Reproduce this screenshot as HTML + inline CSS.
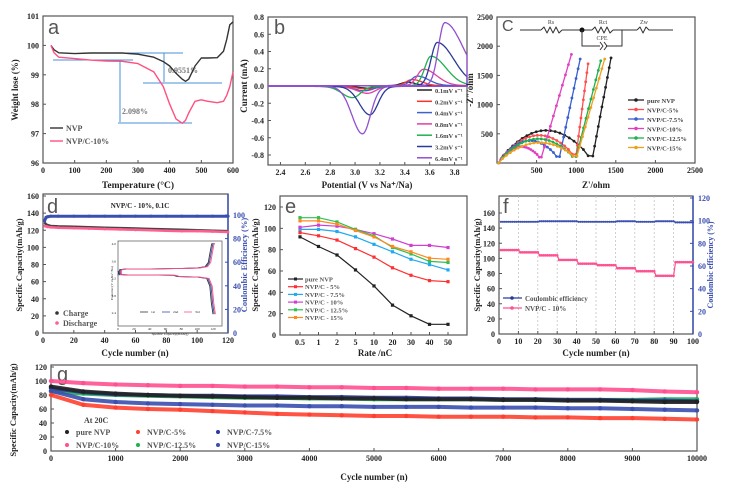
<!DOCTYPE html>
<html><head><meta charset="utf-8"><style>
body{margin:0;background:#fff}
svg{display:block;font-family:"Liberation Serif",serif;font-weight:bold}
</style></head><body>
<svg id="fig" width="735" height="490" viewBox="0 0 735 490" xmlns="http://www.w3.org/2000/svg"></svg>
<script>
// ---------- data ----------
const tgaT=[25,35,50,100,150,200,250,300,350,380,400,420,440,450,460,480,500,520,550,570,580,590,600];
const tgaNVP=[100,99.85,99.75,99.72,99.74,99.74,99.74,99.7,99.6,99.45,99.3,99.05,98.85,98.78,98.85,99.3,99.57,99.57,99.58,99.8,100.2,100.7,100.8];
const tgaNVPC=[100,99.75,99.6,99.55,99.5,99.47,99.46,99.38,99.1,98.6,98.0,97.5,97.35,97.45,97.7,98.1,98.15,98.1,98.05,98.1,98.3,98.6,99.1];
const cvRates=['0.1','0.2','0.4','0.8','1.6','3.2','6.4'];
const cvEa=[3.42,3.46,3.50,3.55,3.61,3.66,3.72];
const cvIa=[0.04,0.07,0.11,0.19,0.34,0.50,0.73];
const cvEc=[3.12,3.10,3.08,3.10,2.98,3.12,3.06];
const cvIc=[-0.02,-0.03,-0.05,-0.08,-0.13,-0.33,-0.55];
const eisNames=['pure NVP','NVP/C-5%','NVP/C-7.5%','NVP/C-10%','NVP/C-12.5%','NVP/C-15%'];
const eisH=[500,400,330,230,360,290];
const eisMinX=[1210,1000,790,560,1000,1010];
const eisMinY=[120,150,110,100,110,120];
const eisTopX=[1440,1150,1050,940,1310,1360];
const eisTopY=[1800,1700,1780,1860,1750,1780];
const dCycles=[1,2,3,5,10,20,30,40,50,60,70,80,90,100,110,120];
const dCharge=[129,127,126,125,124.5,124,123.5,123,122.5,122,121.5,121,120.5,120,119.5,119];
const dDischarge=[125,124.5,124,123.5,123,122.5,122,121.5,121,120.5,120,119.5,119,119,118.5,118];
const dCE=[95,98,98.5,99,99,99,99,99,99,99,99,99,99,99,99,99];
const inCapC=[0,2,10,40,80,100,110,114,116,118,119];
const inVC=[3.25,3.38,3.40,3.40,3.41,3.42,3.45,3.55,3.75,3.95,4.0];
const inCapD=[0,2,10,40,70,75,100,112,116,118,120];
const inVD=[3.35,3.27,3.26,3.26,3.25,3.22,3.21,3.18,3.0,2.6,2.35];
const eRates=['0.5','1','2','5','10','20','30','40','50'];
const eNames=['pure NVP','NVP/C - 5%','NVP/C - 7.5%','NVP/C - 10%','NVP/C - 12.5%','NVP/C - 15%'];
const eNVP=[92,83,75,61,46,28,18,10,10];
const e5=[96,93,89,81,73,63,56,51,50];
const e75=[99,99,97,92,85,78,71,66,61];
const e10=[101,103,102,99,95,90,84,84,82];
const e125=[110,110,106,99,93,82,76,69,68];
const e15=[107,107,104,98,92,83,78,72,71];
const fStep=[111,108,104,98,93,91,87,83,77,95];
const fCE=[99,99,99.5,99.5,99,99,99.5,99,99.5,98.5];
const gCycles=[0,500,1000,1500,2000,2500,3000,3500,4000,4500,5000,5500,6000,6500,7000,7500,8000,8500,9000,9500,10000];
const gNVP=[92,85,82,80,79,78,77,76,76,75,75,74,74,74,73,73,72,72,71,70,70];
const g5=[80,66,62,60,59,57,55,53,52,51,50,50,49,49,49,48,48,47,47,46,45];
const g75=[90,84,81,80,79,79,78,78,77,77,76,76,75,75,74,74,73,73,72,72,71];
const g10=[100,97,95,94,93,93,92,92,91,91,90,90,89,89,89,88,88,88,87,85,84];
const g125=[85,82,80,79,78,77,76,76,75,75,74,74,74,74,73,73,73,73,73,74,74];
const g15=[86,74,70,68,67,66,65,65,64,64,63,63,63,62,62,62,61,61,60,59,58];

// ---------- helpers ----------
const NS='http://www.w3.org/2000/svg';
const svg=document.getElementById('fig');
function mk(tag,attrs,name,parent){
  const el=document.createElementNS(NS,tag);
  for(const k in attrs) el.setAttribute(k,attrs[k]);
  
  
  (parent||svg).appendChild(el);return el;
}
function T(x,y,s,name,o){o=o||{};
  const el=mk('text',{x:x,y:y,'font-size':o.fs||8,'text-anchor':o.a||'middle',fill:o.c||'#222',transform:o.rot?`rotate(-90 ${x} ${y})`:'' ,'font-family':o.ff||'"Liberation Serif",serif','font-weight':o.fw||'bold'},name);
  el.textContent=s;return el;}
function lin(a,b,c,d){return v=>c+(v-a)*(d-c)/(b-a);}
function frame(x0,y0,x1,y1,name){mk('rect',{x:x0,y:y0,width:x1-x0,height:y1-y0,fill:'none',stroke:'#555','stroke-width':1.2},name);}
function L(x1,y1,x2,y2,c,w,name,dash){const a={x1:x1,y1:y1,x2:x2,y2:y2,stroke:c,'stroke-width':w||1};if(dash)a['stroke-dasharray']=dash;return mk('line',a,name);}
function yAx(sc,vals,x,name,side,col,fmt){vals.forEach(v=>{const y=sc(v);
  L(x,y,x+(side>0?-3:3),y,col||'#555',1,name+'-tick');
  T(x+(side>0?5:-4),y+3,fmt?fmt(v):String(v),name+'-label',{a:side>0?'start':'end',c:col||'#222',fs:8});});}
function xAx(sc,vals,y,name,labs){vals.forEach((v,i)=>{const x=sc(v);
  L(x,y,x,y-3,'#555',1,name+'-tick');
  T(x,y+10,labs?labs[i]:String(v),name+'-label',{fs:8});});}
function poly(pts,c,w,name,extra){const a={points:pts.map(p=>p[0].toFixed(1)+','+p[1].toFixed(1)).join(' '),fill:'none',stroke:c,'stroke-width':w||1,'stroke-linejoin':'round'};Object.assign(a,extra||{});return mk('polyline',a,name);}
function dots(pts,c,r,name){pts.forEach(p=>mk('circle',{cx:p[0],cy:p[1],r:r,fill:c},name));}
function letter(x,y,s,name,fs){T(x,y,s,name,{fs:fs||20,a:'start',c:'#555',ff:'"Liberation Sans",sans-serif',fw:'normal'});}

// ---------- panel a ----------
(function(){
const sx=lin(0,600,43,233), sy=lin(96,101,163,16);
frame(43,16,233,163,'panel-a-frame');
yAx(sy,[96,97,98,99,100,101],43,'a-y-axis',-1);
xAx(sx,[0,100,200,300,400,500,600],163,'a-x-axis');
letter(48,34,'a','panel-a-letter');
T(18,90,'Weight lose (%)','a-y-axis-title',{rot:1,fs:9});
T(138,188,'Temperature (°C)','a-x-axis-title',{fs:9.5});
const blue='#4a90d9';
L(83,53,183,53,blue,1,'annot-line-nvp-top');
L(143,83,222,83,blue,1,'annot-line-nvp-bottom');
L(53,60,133,60,blue,1,'annot-line-nvpc-top');
L(118,123,192,123,blue,1,'annot-line-nvpc-bottom');
L(164,53,164,82,blue,1,'annot-arrow-nvp');
L(120,60,120,122,blue,1,'annot-arrow-nvpc');
T(168,73,'0.9551%','annot-text-nvp',{a:'start',fs:8,c:'#777'});
T(122,114,'2.098%','annot-text-nvpc',{a:'start',fs:8,c:'#777'});
poly(tgaT.map((t,i)=>[sx(t),sy(tgaNVP[i])]),'#333',1.4,'tga-nvp-line');
poly(tgaT.map((t,i)=>[sx(t),sy(tgaNVPC[i])]),'#ff5080',1.4,'tga-nvpc-line');
L(50,128,63,128,'#333',1.4,'a-legend-nvp-line');T(66,131,'NVP','a-legend-nvp',{a:'start',fs:8,c:'#555'});
L(50,141,63,141,'#ff5080',1.4,'a-legend-nvpc-line');T(66,144,'NVP/C-10%','a-legend-nvpc',{a:'start',fs:8,c:'#555'});
})();

// ---------- panel b ----------
(function(){
const sx=lin(2.3,3.9,268,467), sy=lin(-0.8,0.8,155,17);
frame(268,17,467,165,'panel-b-frame');
yAx(sy,[-0.8,-0.6,-0.4,-0.2,0,0.2,0.4,0.6,0.8],268,'b-y-axis',-1,null,v=>v.toFixed(1));
xAx(sx,[2.4,2.6,2.8,3.0,3.2,3.4,3.6,3.8],165,'b-x-axis',['2.4','2.6','2.8','3.0','3.2','3.4','3.6','3.8']);
letter(274,34,'b','panel-b-letter');
T(247,86,'Current  (mA)','b-y-axis-title',{rot:1,fs:9});
T(367,188,'Potential (V vs Na⁺/Na)','b-x-axis-title',{fs:9});
const cols=['#222','#ff3030','#4060d0','#e040a0','#20b050','#2a3a9a','#9050d0'];
function pk(V,E,I,wl,wr){const d=V-E,w=d<0?wl:wr;return I*Math.exp(-(d/w)*(d/w));}
cvRates.forEach((r,i)=>{const pts=[];
  for(let V=2.3;V<=3.9;V+=0.01)pts.push([sx(V),sy(0.005+pk(V,cvEa[i],cvIa[i],0.07,0.09+0.02*i))]);
  for(let V=3.9;V>=2.3;V-=0.01)pts.push([sx(V),sy(-0.005+pk(V,cvEc[i],cvIc[i],0.12,0.09))]);
  poly(pts,cols[i],1.3,'cv-curve-'+r);
  const y=90+i*11.3;L(417,y,432,y,cols[i],1.5,'b-legend-line-'+r);
  T(435,y+3,r+'mV s⁻¹','b-legend-'+r,{a:'start',fs:6.5,c:'#444'});
});
})();

// ---------- panel c ----------
(function(){
const sx=lin(0,2500,497,695), sy=lin(0,2500,163,17);
frame(497,17,695,163,'panel-c-frame');
yAx(sy,[500,1000,1500,2000,2500],497,'c-y-axis',-1);
xAx(sx,[500,1000,1500,2000,2500],163,'c-x-axis');
letter(502,31,'C','panel-c-letter',16);
T(473,90,'-Z"/ohm','c-y-axis-title',{rot:1,fs:9});
T(596,188,"Z'/ohm",'c-x-axis-title',{fs:9});
L(520,30,541,30,'#333',1,'circuit-wire');
poly([[541,30],[544,27],[547,33],[550,27],[553,33],[556,27],[559,33],[562,30]],'#333',1,'circuit-rs');
L(562,30,592,30,'#333',1,'circuit-wire');mk('circle',{cx:582,cy:30,r:2.5,fill:'#111'},'circuit-node');
poly([[592,30],[595,27],[598,33],[601,27],[604,33],[607,27],[610,33],[613,30]],'#333',1,'circuit-rct');
L(613,30,637,30,'#333',1,'circuit-wire');
poly([[582,30],[582,46],[600,46]],'#333',1,'circuit-cpe-wire');poly([[622,30],[622,46],[606,46]],'#333',1,'circuit-cpe-wire');
poly([[600,42],[603,46],[600,50]],'#333',1,'circuit-cpe');poly([[604,42],[607,46],[604,50]],'#333',1,'circuit-cpe');
poly([[637,30],[640,27],[643,33],[646,27],[649,30],[673,30]],'#333',1,'circuit-zw');
T(551,24,'Rs','circuit-rs-label',{fs:6,fw:'normal',c:'#444'});T(603,24,'Rct','circuit-rct-label',{fs:6,fw:'normal',c:'#444'});
T(644,24,'Zw','circuit-zw-label',{fs:6,fw:'normal',c:'#444'});T(602,40,'CPE','circuit-cpe-label',{fs:6,fw:'normal',c:'#444'});
const cols=['#222','#ff5050','#3a5fd0','#e040c0','#20b050','#f0a020'];
eisNames.forEach((n,i)=>{const pts=[];
  for(let t=0;t<=1.0001;t+=0.05){pts.push([sx(20+t*(eisMinX[i]-20)),sy(eisH[i]*Math.pow(Math.sin(Math.PI*Math.min(t*1.05,1)),0.8)+eisMinY[i]*t)]);}
  for(let t=0.1;t<=1.0001;t+=0.1){pts.push([sx(eisMinX[i]+t*(eisTopX[i]-eisMinX[i])),sy(eisMinY[i]+t*(eisTopY[i]-eisMinY[i]))]);}
  poly(pts,cols[i],1.3,'eis-curve-'+i);dots(pts,cols[i],1.4,'eis-marker-'+i);
  const y=100+i*9.5;L(628,y,644,y,cols[i],1.3,'c-legend-line');mk('circle',{cx:636,cy:y,r:1.8,fill:cols[i]},'c-legend-marker');
  T(647,y+3,n,'c-legend-'+i,{a:'start',fs:6.5,c:'#444'});
});
})();

// ---------- panel d ----------
(function(){
const sx=lin(0,120,43,228), sy=lin(0,160,333,196), syR=lin(0,100,333,215);
frame(43,194,228,333,'panel-d-frame');
L(228,194,228,333,'#3a4fb0',1.5,'d-right-axis');
yAx(sy,[0,20,40,60,80,100,120,140,160],43,'d-y-axis',-1);
yAx(syR,[0,20,40,60,80,100],228,'d-y2-axis',1,'#3a4fb0');
xAx(sx,[0,20,40,60,80,100,120],333,'d-x-axis');
letter(47,213,'d','panel-d-letter');
T(140,208,'NVP/C - 10%,  0.1C','d-title',{fs:7});
T(22,265,'Specific Capacity(mAh/g)','d-y-axis-title',{rot:1,fs:8.5});
T(247,265,'Coulombic Efficiency (%)','d-y2-axis-title',{rot:1,fs:8.5,c:'#3a4fb0'});
T(135,356,'Cycle number (n)','d-x-axis-title',{fs:9});
const ce=dCycles.map((c,i)=>[sx(c),syR(dCE[i])]);poly(ce,'#3a4fb0',3,'d-ce-line');dots(ce,'#3a4fb0',1.6,'d-ce-marker');
const ch=dCycles.map((c,i)=>[sx(c),sy(dCharge[i])]);poly(ch,'#444',2.5,'d-charge-line');
const dc=dCycles.map((c,i)=>[sx(c),sy(dDischarge[i])]);poly(dc,'#ff6090',2.5,'d-discharge-line');dots(dc,'#ff6090',1.4,'d-discharge-marker');
mk('circle',{cx:57,cy:313,r:1.8,fill:'#333'},'d-legend-charge-marker');T(63,316,'Charge','d-legend-charge',{a:'start',fs:8,c:'#555'});
mk('circle',{cx:57,cy:323,r:1.8,fill:'#ff6090'},'d-legend-discharge-marker');T(63,326,'Discharge','d-legend-discharge',{a:'start',fs:8,c:'#555'});
const ix=lin(0,120,118,213), iy=lin(2.4,4.0,312,243);
mk('rect',{x:118,y:241,width:104,height:85,fill:'#fff',stroke:'#666','stroke-width':0.8},'inset-frame');
[2.4,2.8,3.2,3.6,4.0].forEach(v=>T(116,iy(v)+2,v.toFixed(1),'inset-y-label',{a:'end',fs:3.5,fw:'normal'}));
[0,20,40,60,80,100,120].forEach(v=>T(ix(v),330,String(v),'inset-x-label',{fs:3.5,fw:'normal'}));
T(113,283,'Potential (V vs Na⁺/Na)','inset-y-title',{rot:1,fs:3.5,fw:'normal'});
T(170,335,'Specific Capacity(mAh/g)','inset-x-title',{fs:3.5,fw:'normal'});
const ic=['#333','#3a4fb0','#ff5080'];
ic.forEach((c,k)=>{poly(inCapC.map((q,i)=>[ix(q)+k*1.2,iy(inVC[i])]),c,0.9,'inset-charge-'+k);
  poly(inCapD.map((q,i)=>[ix(q)+k*1.2,iy(inVD[i])]),c,0.9,'inset-discharge-'+k);
  L(140+k*22,312,148+k*22,312,c,0.8,'inset-legend-line');T(151+k*22,313,['1st','2nd','3rd'][k],'inset-legend',{a:'start',fs:3.5,fw:'normal'});});
})();

// ---------- panel e ----------
(function(){
const sx=lin(0,9,281.5,448), sy=lin(0,120,335,207);
frame(280,196,467,335,'panel-e-frame');
yAx(sy,[0,20,40,60,80,100,120],280,'e-y-axis',-1);
xAx(sx,[1,2,3,4,5,6,7,8,9],335,'e-x-axis',eRates);
letter(285,213,'e','panel-e-letter');
T(258,265,'Specific Capacity(mAh/g)','e-y-axis-title',{rot:1,fs:8.5});
T(375,356,'Rate /nC','e-x-axis-title',{fs:9});
const series=[eNVP,e5,e75,e10,e125,e15], cols=['#222','#ff3030','#20a8f0','#d040d0','#30c050','#ff8820'];
series.forEach((s,k)=>{const pts=s.map((v,i)=>[sx(i+1),sy(v)]);poly(pts,cols[k],1.2,'e-line-'+k);
  pts.forEach(p=>mk('rect',{x:p[0]-1.6,y:p[1]-1.6,width:3.2,height:3.2,fill:cols[k]},'e-marker-'+k));
  const y=279+k*7.7;L(288,y,303,y,cols[k],1.2,'e-legend-line');mk('rect',{x:294,y:y-1.5,width:3,height:3,fill:cols[k]},'e-legend-marker');
  T(305,y+2.5,eNames[k],'e-legend-'+k,{a:'start',fs:6.5,c:'#555'});});
})();

// ---------- panel f ----------
(function(){
const sx=lin(0,100,499,693), sy=lin(0,160,334,213), syR=lin(0,120,334,198);
frame(499,196,693,334,'panel-f-frame');
L(693,196,693,334,'#3a4fb0',1.5,'f-right-axis');
for(let c=10;c<100;c+=10)L(sx(c),196,sx(c),334,'#bbb',0.7,'f-gridline','2,2');
yAx(sy,[0,20,40,60,80,100,120,140,160],499,'f-y-axis',-1);
yAx(syR,[0,20,40,60,80,100,120],693,'f-y2-axis',1,'#3a4fb0');
xAx(sx,[0,10,20,30,40,50,60,70,80,90,100],334,'f-x-axis');
letter(503,213,'f','panel-f-letter');
T(480,265,'Specific Capacity(mAh/g)','f-y-axis-title',{rot:1,fs:8.5});
T(713,265,'Coulombic efficiency (%)','f-y2-axis-title',{rot:1,fs:8,c:'#3a4fb0'});
T(596,356,'Cycle number (n)','f-x-axis-title',{fs:9});
const cap=[],ce=[];
for(let c=1;c<=100;c++){const s=Math.min(9,Math.floor((c-1)/10));cap.push([sx(c),sy(fStep[s])]);ce.push([sx(c),syR(fCE[s])]);}
poly(ce,'#2a3a9a',1.2,'f-ce-line');dots(ce,'#3a4fb0',1.1,'f-ce-marker');
poly(cap,'#ff5090',1.2,'f-capacity-line');dots(cap,'#ff5090',1.3,'f-capacity-marker');
L(503,298,522,298,'#2a3a9a',1.2,'f-legend-ce-line');mk('circle',{cx:512,cy:298,r:1.8,fill:'#2a3a9a'},'f-legend-ce-marker');
T(525,301,'Coulombic efficiency','f-legend-ce',{a:'start',fs:7,c:'#555'});
L(503,308,522,308,'#ff5090',1.2,'f-legend-cap-line');mk('circle',{cx:512,cy:308,r:1.8,fill:'#ff5090'},'f-legend-cap-marker');
T(525,311,'NVP/C - 10%','f-legend-cap',{a:'start',fs:7,c:'#555'});
})();

// ---------- panel g ----------
(function(){
const sx=lin(0,10000,51,697), sy=lin(0,120,451,367);
frame(51,365,697,451,'panel-g-frame');
yAx(sy,[0,20,40,60,80,100,120],51,'g-y-axis',-1);
xAx(sx,[0,1000,2000,3000,4000,5000,6000,7000,8000,9000,10000],451,'g-x-axis');
letter(57,381,'g','panel-g-letter');
T(16,410,'Specific Capacity(mAh/g)','g-y-axis-title',{rot:1,fs:8.5});
T(374,480,'Cycle number (n)','g-x-axis-title',{fs:9});
T(84,423,'At  20C','g-condition',{a:'start',fs:8,c:'#444'});
const series=[g10,g125,g75,gNVP,g15,g5], cols=['#ff5090','#20b050','#2a3aa0','#222','#3a4fb0','#ff4030'], names=['nvpc-10','nvpc-12-5','nvpc-7-5','pure-nvp','nvpc-15','nvpc-5'];
series.forEach((s,k)=>{const pts=s.map((v,i)=>[sx(gCycles[i]),sy(v)]);poly(pts,cols[k],4,'g-line-'+names[k],{'stroke-opacity':0.9});dots(pts,cols[k],2.2,'g-marker-'+names[k]);});
const leg=[['pure NVP','#222',67,432],['NVP/C-5%','#ff4030',138,432],['NVP/C-7.5%','#2a3aa0',218,432],['NVP/C-10%','#ff5090',67,445],['NVP/C-12.5%','#20b050',138,445],['NVP/C-15%','#3a4fb0',218,445]];
leg.forEach(l=>{mk('circle',{cx:l[2],cy:l[3],r:2,fill:l[1]},'g-legend-marker');T(l[2]+9,l[3]+3,l[0],'g-legend-entry',{a:'start',fs:8,c:'#555'});});
})();
</script>
</body></html>
